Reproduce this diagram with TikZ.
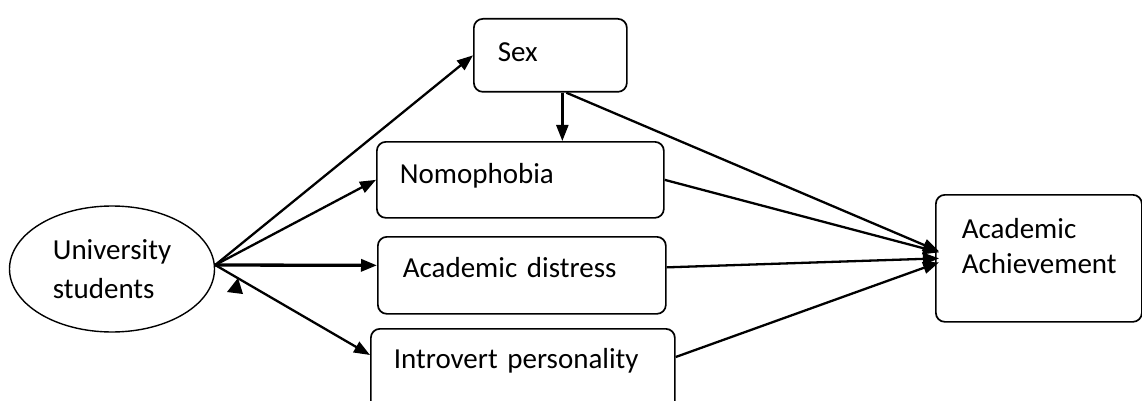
\documentclass[tikz,border=0pt]{standalone}
\usepackage{fontspec}
\setmainfont{Carlito}
\usetikzlibrary{arrows.meta,shapes.geometric}

\begin{document}
\begin{tikzpicture}[x=1pt,y=-1pt,
    varbox/.style={draw, line width=1.7pt, rounded corners=9pt, anchor=north west,
        align=left, inner ysep=0pt, font=\fontsize{29}{35}\selectfont},
    link/.style={line width=2.3pt, -{Triangle[length=16pt,width=12pt]}}]
    \useasboundingbox (0,0) rectangle (1142,401);

    \node[ellipse, draw, line width=1.4pt, minimum width=205pt, minimum height=126pt,
        inner sep=0pt, align=left, font=\fontsize{29}{39}\selectfont] (univ) at (112,269) {University\\students};

    \node[varbox, inner xsep=24pt, text width=105pt, text height=43pt, text depth=30pt] (sex) at (473,18) {Sex};
    \node[varbox, inner xsep=23pt, text width=241pt, text height=42pt, text depth=34pt] (nomo) at (376,141) {Nomophobia};
    \node[varbox, inner xsep=25pt, text width=238pt, text height=41pt, text depth=36pt] (distress) at (377,236) {Academic distress};
    \node[varbox, inner xsep=23pt, text width=258pt, text height=40pt, text depth=45pt] (intro) at (370,328) {Introvert personality};
    \node[varbox, inner xsep=26pt, text width=154pt, text height=44pt, text depth=83pt] (aa) at (935,194) {Academic\\Achievement};

    \coordinate (fan) at ([yshift=4pt]univ.east);

    \draw[link] (fan) -- (sex.west);
    \draw[link] (fan) -- (nomo.west);
    \draw[link, line width=3.3pt] (fan) -- ([yshift=10pt]distress.west);
    \draw[link] (fan) -- ([yshift=-27pt]intro.north west);
    \fill (227,292) -- (243,294) -- (238,278) -- cycle;

    \draw[link] ([xshift=12pt]sex.south) -- ([xshift=12pt]sex.south |- nomo.north);
    \draw[link] ([xshift=16pt]sex.south) -- ([xshift=4pt,yshift=7pt]aa.west);
    \draw[link] (nomo.east) -- ([xshift=4pt,yshift=6pt]aa.west);
    \draw[link] ([yshift=8pt]distress.east) -- ([xshift=4pt]aa.west);
    \draw[link] ([yshift=-29pt]intro.north east) -- ([xshift=4pt,yshift=-4pt]aa.west);
\end{tikzpicture}
\end{document}
